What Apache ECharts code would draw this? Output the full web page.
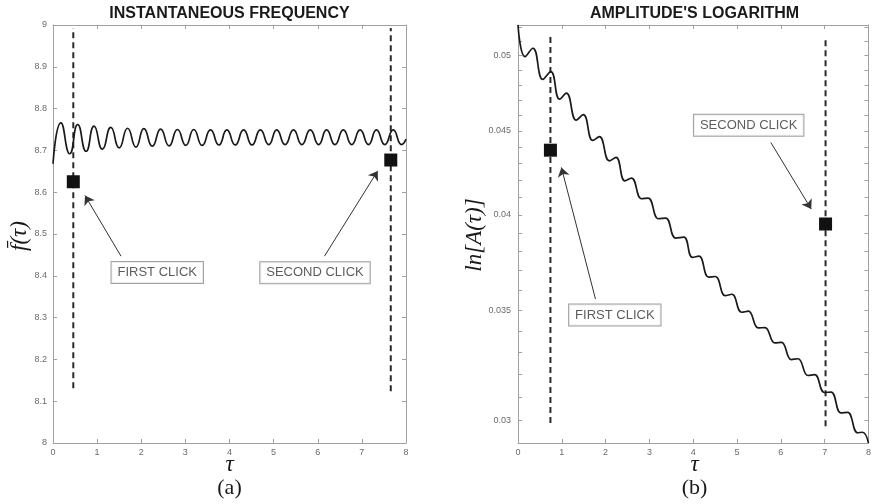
<!DOCTYPE html>
<html><head><meta charset="utf-8">
<script src="https://cdn.jsdelivr.net/npm/echarts@6/dist/echarts.min.js"></script>
<style>html,body{margin:0;padding:0;background:#fff}#c{width:874px;height:504px}</style>
</head><body><div id="c"></div>
<script>
// ---------- Panel (a): instantaneous frequency ----------
const freqT = [0, 0.18, 0.38, 0.56, 0.75, 0.93, 1.12, 1.31, 1.50, 1.69, 1.88, 2.06, 2.25, 2.44, 2.63, 2.82, 3.01, 3.19, 3.38, 3.57, 3.76, 3.94, 4.13, 4.32, 4.51, 4.70, 4.89, 5.07, 5.26, 5.45, 5.64, 5.83, 6.02, 6.20, 6.39, 6.58, 6.77, 6.96, 7.15, 7.33, 7.52, 7.71, 7.90, 8.0];
const freqV = [8.668, 8.766, 8.692, 8.762, 8.698, 8.758, 8.703, 8.755, 8.706, 8.753, 8.708, 8.752, 8.710, 8.751, 8.711, 8.750, 8.712, 8.750, 8.712, 8.749, 8.713, 8.749, 8.713, 8.749, 8.713, 8.749, 8.714, 8.749, 8.714, 8.749, 8.714, 8.749, 8.714, 8.749, 8.714, 8.749, 8.714, 8.749, 8.714, 8.749, 8.714, 8.749, 8.714, 8.727];
const freqClickT = [0.46, 7.655];
const freqClickV = [8.625, 8.677];
const freqDashTop = [8.993, 8.993];
const freqDashBottom = [8.131, 8.124];
const freqNoteText = ['FIRST CLICK', 'SECOND CLICK'];
const freqNoteAt = [[2.362, 8.408], [5.938, 8.407]];
const freqArrowFrom = [[1.541, 8.447], [6.153, 8.447]];
const freqArrowTo = [[0.725, 8.592], [7.359, 8.651]];

// ---------- Panel (b): amplitude's logarithm ----------
const ampT = [0, 0.16, 0.34, 0.566, 0.748, 0.95, 1.104, 1.33, 1.49, 1.707, 1.858, 2.085, 2.237, 2.44, 2.59, 2.82, 2.97, 3.207, 3.37, 3.60, 3.785, 3.98, 4.13, 4.351, 4.503, 4.73, 4.88, 5.106, 5.258, 5.484, 5.636, 5.863, 6.012, 6.239, 6.391, 6.618, 6.769, 6.996, 7.146, 7.372, 7.524, 7.751, 7.864, 8.0];
const ampV = [0.05219, 0.04993, 0.05052, 0.04836, 0.04889, 0.04704, 0.04744, 0.04568, 0.04603, 0.04440, 0.04464, 0.04315, 0.04336, 0.04196, 0.04212, 0.04092, 0.04096, 0.03979, 0.03983, 0.03873, 0.03878, 0.03770, 0.03776, 0.03667, 0.03670, 0.03573, 0.03580, 0.03491, 0.03496, 0.03415, 0.03417, 0.03344, 0.03347, 0.03267, 0.03271, 0.03195, 0.03199, 0.03120, 0.03122, 0.03032, 0.03034, 0.02949, 0.02951, 0.02907];
const ampClickT = [0.74, 7.02];
const ampClickV = [0.0438, 0.0395];
const ampDashTop = [0.05147, 0.05133];
const ampDashBottom = [0.0299, 0.02976];
const ampNoteText = ['FIRST CLICK', 'SECOND CLICK'];
const ampNoteAt = [[2.210, 0.034774], [5.265, 0.045362]];
const ampArrowFrom = [[1.768, 0.035563], [5.771, 0.044272]];
const ampArrowTo = [[0.990, 0.042756], [6.693, 0.040334]];
const ampTickLabels = [0.03, 0.035, 0.04, 0.045, 0.05];
const ampTickMarks = [0.030, 0.031, 0.032, 0.033, 0.034, 0.035, 0.036, 0.037, 0.038, 0.039, 0.040, 0.041, 0.042, 0.043, 0.044, 0.045, 0.046, 0.047, 0.048, 0.049, 0.050, 0.051, 0.052];

const zip = (a, b) => a.map((v, i) => [v, b[i]]);
const AX = '#a0a0a0';
const LBL = { color: '#6a6a6a', fontSize: 9, fontFamily: 'Liberation Sans, Arial, sans-serif' };

function xAx(grid, pos) {
  return { type: 'value', gridIndex: grid, min: 0, max: 8, interval: 1, position: pos,
    axisLine: { onZero: false, lineStyle: { color: AX, width: 1 } },
    axisTick: { inside: true, length: 4, lineStyle: { color: AX } },
    splitLine: { show: false },
    axisLabel: Object.assign({ show: pos === 'bottom', margin: 5 }, LBL) };
}
function yFreq(pos) {
  return { type: 'value', gridIndex: 0, min: 8, max: 9, interval: 0.1, position: pos,
    axisLine: { onZero: false, lineStyle: { color: AX, width: 1 } },
    axisTick: { inside: true, length: 4, lineStyle: { color: AX } },
    splitLine: { show: false },
    axisLabel: Object.assign({ show: pos === 'left', margin: 6 }, LBL) };
}
function yAmp(pos) {
  return { type: 'log', gridIndex: 1, min: 0.02907, max: 0.05219, position: pos,
    axisLine: { onZero: false, lineStyle: { color: AX, width: 1 } },
    axisTick: { inside: true, length: 4, lineStyle: { color: AX }, customValues: ampTickMarks },
    minorTick: { show: false },
    splitLine: { show: false },
    axisLabel: Object.assign({ show: pos === 'left', margin: 7, customValues: ampTickLabels,
      formatter: v => String(+(+v).toFixed(4)) }, LBL) };
}

function panelSeries(xi, yi, T, V, smoothK, clickT, clickV, dashTop, dashBottom, noteText, noteAt, arrowFrom, arrowTo) {
  const s = [];
  s.push({ type: 'line', xAxisIndex: xi, yAxisIndex: yi, data: zip(T, V), smooth: smoothK,
    symbol: 'none', lineStyle: { color: '#1a1a1a', width: 1.7 }, itemStyle: { color: '#333' }, z: 3, silent: true,
    markLine: { silent: true, animation: false, symbol: ['none', 'arrow'], symbolSize: 9,
      label: { show: false }, emphasis: { disabled: true },
      lineStyle: { type: 'solid', color: '#333', width: 1, opacity: 1 },
      itemStyle: { color: '#333' },
      data: arrowFrom.map((f, i) => [{ coord: f }, { coord: arrowTo[i] }]) } });
  clickT.forEach((t, i) => {
    s.push({ type: 'line', xAxisIndex: xi, yAxisIndex: yi, data: [[t, dashBottom[i]], [t, dashTop[i]]],
      symbol: 'none', lineStyle: { color: '#2a2a2a', width: 2, type: [6, 4] }, z: 2, silent: true });
  });
  s.push({ type: 'scatter', xAxisIndex: xi, yAxisIndex: yi, data: zip(clickT, clickV),
    symbol: 'rect', symbolSize: 13, itemStyle: { color: '#111', opacity: 1 }, z: 5, silent: true });
  s.push({ type: 'scatter', xAxisIndex: xi, yAxisIndex: yi, symbolSize: 0, z: 6, silent: true,
    data: noteAt.map((p, i) => ({ value: p, name: noteText[i] })),
    label: { show: true, position: 'inside', formatter: '{b}', color: '#333', fontSize: 13,
      fontFamily: 'Liberation Sans, Arial, sans-serif', backgroundColor: '#fff', borderColor: '#8a8a8a',
      borderWidth: 1, padding: [4, 6, 4, 6], lineHeight: 13 } });
  return s;
}

const txt = (x, y, text, font, extra) => Object.assign({ type: 'text', x: x, y: y, silent: true,
  style: { text: text, font: font, fill: '#1a1a1a', align: 'center', verticalAlign: 'middle' } }, extra || {});

const chart = echarts.init(document.getElementById('c'), null, { renderer: 'canvas' });
chart.setOption({
  animation: false,
  backgroundColor: '#fff',
  grid: [{ left: 53, top: 25, width: 353, height: 418 }, { left: 518, top: 25, width: 353, height: 418 }],
  xAxis: [xAx(0, 'bottom'), xAx(0, 'top'), xAx(1, 'bottom'), xAx(1, 'top')],
  yAxis: [yFreq('left'), yFreq('right'), yAmp('left'), yAmp('right')],
  series: [].concat(
    panelSeries(0, 0, freqT, freqV, 0.55, freqClickT, freqClickV, freqDashTop, freqDashBottom, freqNoteText, freqNoteAt, freqArrowFrom, freqArrowTo),
    panelSeries(2, 2, ampT, ampV, 0.45, ampClickT, ampClickV, ampDashTop, ampDashBottom, ampNoteText, ampNoteAt, ampArrowFrom, ampArrowTo)
  ),
  graphic: [
    txt(229.5, 13.5, 'INSTANTANEOUS FREQUENCY', 'bold 16px "Liberation Sans", Arial, sans-serif'),
    txt(694.5, 13.5, "AMPLITUDE'S LOGARITHM", 'bold 16px "Liberation Sans", Arial, sans-serif'),
    txt(20, 236, 'f\u0304(\u03c4)', 'italic 23px "Liberation Serif", "DejaVu Serif", serif', { rotation: Math.PI / 2 }),
    txt(475, 235, 'ln[A(\u03c4)]', 'italic 23px "Liberation Serif", "DejaVu Serif", serif', { rotation: Math.PI / 2 }),
    txt(229.5, 465, '\u03c4', 'italic 23px "Liberation Serif", "DejaVu Serif", serif'),
    txt(694.5, 465, '\u03c4', 'italic 23px "Liberation Serif", "DejaVu Serif", serif'),
    txt(229.5, 488, '(a)', '22px "Liberation Serif", "DejaVu Serif", serif'),
    txt(694.5, 488, '(b)', '22px "Liberation Serif", "DejaVu Serif", serif')
  ]
});
</script></body></html>
